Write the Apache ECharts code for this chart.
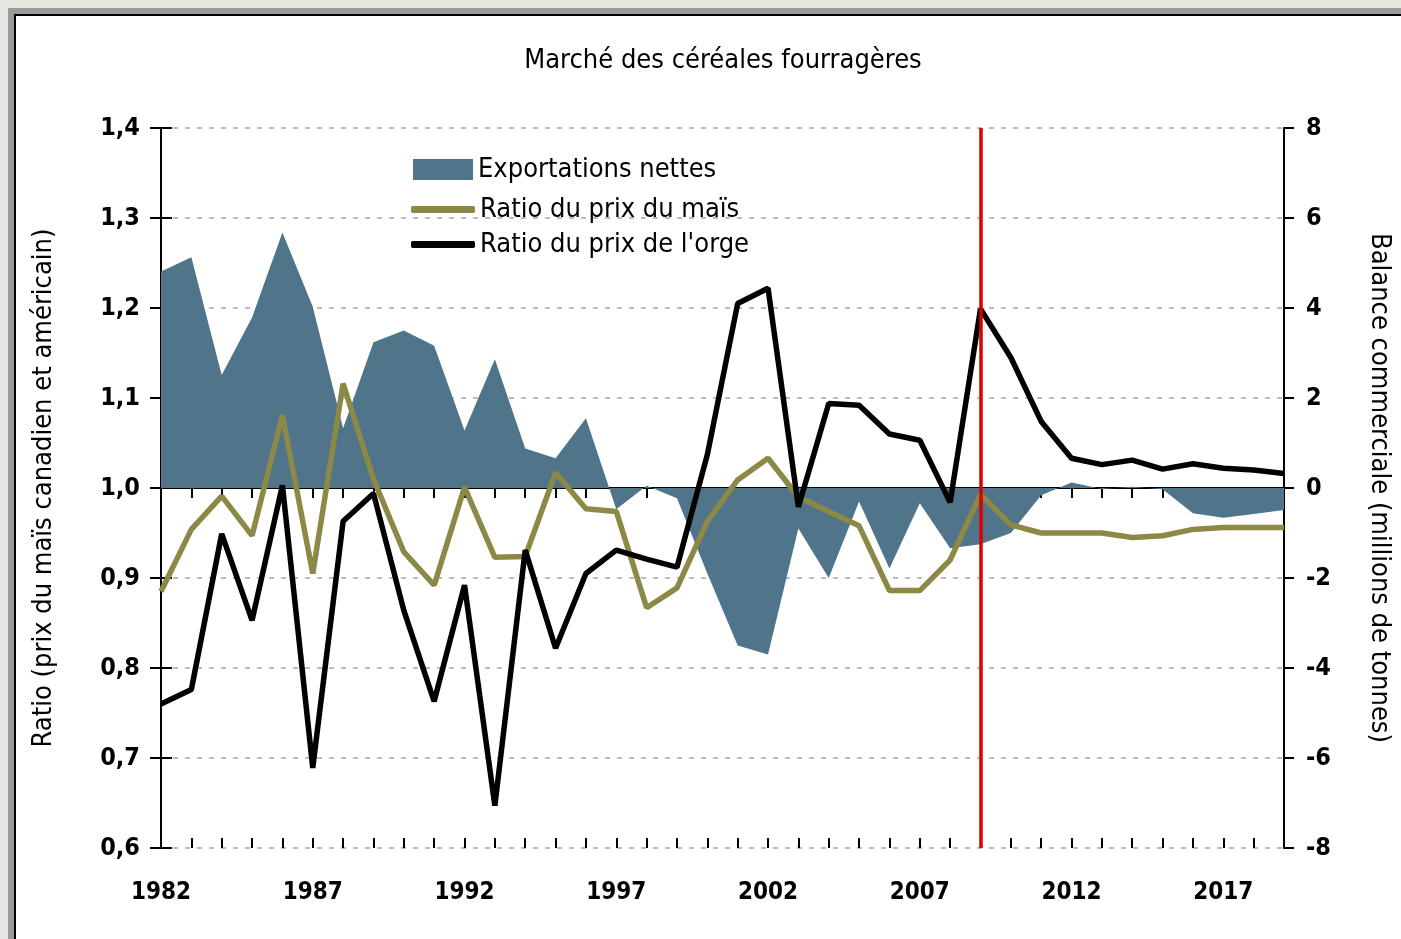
<!DOCTYPE html>
<html>
<head>
<meta charset="utf-8">
<title>Marché des céréales fourragères</title>
<script src="https://cdn.jsdelivr.net/npm/echarts@6/dist/echarts.min.js"></script>
<style>
    html, body{
        margin: 0;
        padding: 0;
        width: 1401px;
        height: 939px;
        overflow: hidden;
        background: #e8e7e2;
    }
    .frame{
        position: absolute;
        left: 8px;
        top: 8px;
        width: 1500px;
        height: 1000px;
        border-left: 6px solid #9b9b9b;
        border-top: 6px solid #9b9b9b;
    }
    .frame-inner{
        width: 100%;
        height: 100%;
        border-left: 2px solid #000;
        border-top: 2px solid #000;
        background: #fff;
    }
    #chart{
        position: absolute;
        left: 0;
        top: 0;
        width: 1401px;
        height: 939px;
    }
</style>
</head>
<body>
<div class="frame"><div class="frame-inner"></div></div>
<div id="chart"></div>
<script>
    // années
    const years = ['1982','1983','1984','1985','1986','1987','1988','1989','1990','1991',
        '1992','1993','1994','1995','1996','1997','1998','1999','2000','2001',
        '2002','2003','2004','2005','2006','2007','2008','2009','2010','2011',
        '2012','2013','2014','2015','2016','2017','2018','2019']
    // exportations nettes (millions de tonnes), axe de droite
    const exportations = [4.81, 5.13, 2.51, 3.79, 5.68, 4.03, 1.33, 3.24, 3.50, 3.16,
        1.28, 2.86, 0.88, 0.66, 1.55, -0.47, 0.05, -0.23, -1.9, -3.5,
        -3.7, -0.9, -2.0, -0.3, -1.79, -0.34, -1.34, -1.25, -1.0, -0.16,
        0.12, -0.02, 0.03, -0.03, -0.56, -0.66, -0.58, -0.49]
    // ratio du prix du maïs
    const ratioMais = [0.885, 0.954, 0.991, 0.947, 1.081, 0.905, 1.116, 1.010, 0.929, 0.892,
        1.001, 0.923, 0.924, 1.017, 0.977, 0.974, 0.867, 0.889, 0.963, 1.009,
        1.033, 0.990, 0.974, 0.958, 0.886, 0.886, 0.920, 0.993, 0.959, 0.950,
        0.950, 0.950, 0.945, 0.947, 0.954, 0.956, 0.956, 0.956]
    // ratio du prix de l'orge
    const ratioOrge = [0.760, 0.776, 0.949, 0.853, 1.003, 0.689, 0.963, 0.994, 0.864, 0.763,
        0.892, 0.647, 0.931, 0.822, 0.905, 0.931, 0.921, 0.912, 1.037, 1.205,
        1.222, 0.979, 1.094, 1.092, 1.060, 1.053, 0.984, 1.199, 1.145, 1.074,
        1.033, 1.026, 1.031, 1.021, 1.027, 1.022, 1.020, 1.016]
    const yearLabels = ['1982','1987','1992','1997','2002','2007','2012','2017']
    const markerYear = '2009'

    const font = "'Liberation Sans Narrow', 'Arial Narrow', 'DejaVu Sans Condensed', sans-serif"
    const blue = '#50748a'
    const olive = '#8b8945'

    var myChart = echarts.init(document.getElementById('chart'))
    const option = {
        textStyle: { fontFamily: font, color: '#000' },
        title: {
            text: 'Marché des céréales fourragères',
            left: 718,
            top: 42,
            textAlign: 'center',
            textStyle: { fontFamily: font, fontSize: 27, fontWeight: 'normal', color: '#000' }
        },
        legend: [
            {
                orient: 'vertical',
                left: 408,
                top: 151,
                itemWidth: 60,
                itemHeight: 21,
                itemGap: 8,
                textStyle: { fontFamily: font, fontSize: 27, color: '#000' },
                data: [{ name: 'Exportations nettes', icon: 'rect' }]
            },
            {
                orient: 'vertical',
                left: 406,
                top: 191,
                itemWidth: 64,
                itemHeight: 7,
                itemGap: 8,
                textStyle: { fontFamily: font, fontSize: 27, color: '#000' },
                data: [
                    { name: 'Ratio du prix du maïs', icon: 'roundRect' },
                    { name: "Ratio du prix de l'orge", icon: 'roundRect' }
                ]
            }
        ],
        grid: {
            left: 161,
            right: 109,
            top: 128,
            bottom: 91
        },
        xAxis: [
            {
                type: 'category',
                data: years,
                boundaryGap: false,
                axisLine: { lineStyle: { color: '#000', width: 2 } },
                axisTick: { show: true, interval: 0, length: 10, lineStyle: { color: '#000', width: 2 } },
                axisLabel: {
                    interval: 0,
                    margin: 33,
                    fontFamily: font,
                    fontSize: 24,
                    fontWeight: 'bold',
                    color: '#000',
                    formatter: v => yearLabels.includes(v) ? v : ''
                },
                splitLine: { show: false }
            },
            {
                type: 'category',
                data: years,
                position: 'bottom',
                boundaryGap: false,
                axisLine: { show: false },
                axisTick: { show: true, inside: true, interval: 0, length: 10, lineStyle: { color: '#000', width: 2 } },
                axisLabel: { show: false },
                splitLine: { show: false }
            }
        ],
        yAxis: [
            {
                type: 'value',
                position: 'left',
                min: 0.6,
                max: 1.4,
                interval: 0.1,
                name: 'Ratio (prix du maïs canadien et américain)',
                nameLocation: 'middle',
                nameGap: 104,
                nameTextStyle: { fontFamily: font, fontSize: 27, color: '#000' },
                axisLine: { show: true, lineStyle: { color: '#000', width: 2 } },
                axisTick: { show: true, length: 11, lineStyle: { color: '#000', width: 2 } },
                axisLabel: {
                    margin: 21,
                    fontFamily: font,
                    fontSize: 25,
                    fontWeight: 'bold',
                    color: '#000',
                    formatter: v => v.toFixed(1).replace('.', ',')
                },
                splitLine: { show: true, lineStyle: { color: '#bdbdbd', width: 2, type: [5, 7] } }
            },
            {
                type: 'value',
                position: 'right',
                min: -8,
                max: 8,
                interval: 2,
                name: 'Balance commerciale (millions de tonnes)',
                nameLocation: 'middle',
                nameGap: 82,
                nameRotate: -90,
                nameTextStyle: { fontFamily: font, fontSize: 27, color: '#000' },
                axisLine: { show: true, lineStyle: { color: '#000', width: 2 } },
                axisTick: { show: true, length: 10, lineStyle: { color: '#000', width: 2 } },
                axisLabel: {
                    margin: 22,
                    fontFamily: font,
                    fontSize: 25,
                    fontWeight: 'bold',
                    color: '#000'
                },
                splitLine: { show: false }
            },
            {
                type: 'value',
                position: 'left',
                min: 0.6,
                max: 1.4,
                interval: 0.1,
                axisLine: { show: false },
                axisTick: { show: true, inside: true, length: 11, lineStyle: { color: '#000', width: 2 } },
                axisLabel: { show: false },
                splitLine: { show: false }
            }
        ],
        series: [
            {
                name: 'Exportations nettes',
                type: 'line',
                yAxisIndex: 1,
                data: exportations,
                symbol: 'none',
                color: blue,
                lineStyle: { width: 0 },
                areaStyle: { color: blue, opacity: 1 },
                z: 1
            },
            {
                name: 'Ratio du prix du maïs',
                type: 'line',
                yAxisIndex: 0,
                data: ratioMais,
                symbol: 'none',
                color: olive,
                lineStyle: { color: olive, width: 5.5 },
                z: 3
            },
            {
                name: "Ratio du prix de l'orge",
                type: 'line',
                yAxisIndex: 0,
                data: ratioOrge,
                symbol: 'none',
                color: '#000',
                lineStyle: { color: '#000', width: 5.5 },
                z: 4,
                markLine: {
                    silent: true,
                    symbol: 'none',
                    label: { show: false },
                    lineStyle: { color: '#dd0000', width: 3.5, type: 'solid' },
                    data: [{ xAxis: markerYear }],
                    z: 10
                }
            }
        ]
    }
    myChart.setOption(option)
</script>
</body>
</html>
